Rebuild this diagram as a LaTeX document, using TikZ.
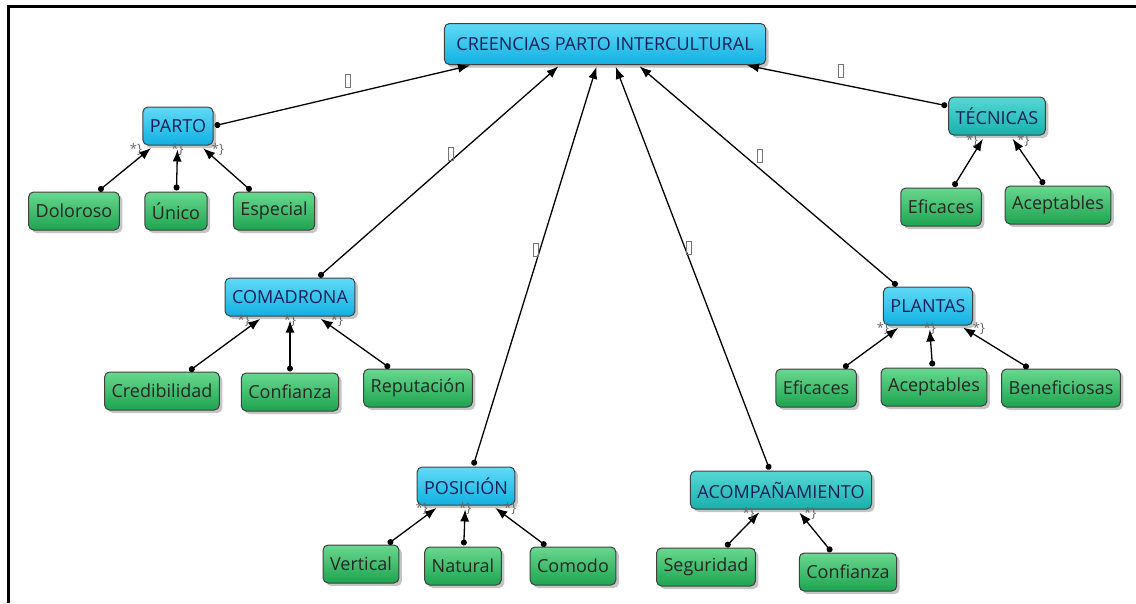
\documentclass[tikz,border=0pt]{standalone}
\usepackage{fontspec}
\setmainfont{Open Sans}
\usetikzlibrary{shapes,arrows.meta,shadows}
\definecolor{azul1}{RGB}{95,218,246}
\definecolor{azul2}{RGB}{18,176,226}
\definecolor{turq1}{RGB}{85,216,212}
\definecolor{turq2}{RGB}{24,176,172}
\definecolor{verde1}{RGB}{104,216,142}
\definecolor{verde2}{RGB}{30,164,80}
\definecolor{tinta}{RGB}{22,32,88}
\tikzstyle{caja}=[rectangle, rounded corners=5pt, draw=black!75, line width=1pt, inner xsep=7pt, minimum height=38pt, font=\fontsize{18}{20}\selectfont, drop shadow={shadow xshift=3pt, shadow yshift=-3pt, fill=black!45, opacity=.5}]
\tikzstyle{azul}=[caja, top color=azul1, bottom color=azul2, text=tinta]
\tikzstyle{turq}=[caja, top color=turq1, bottom color=turq2, text=tinta]
\tikzstyle{hoja}=[caja, top color=verde1, bottom color=verde2, text=black!85]
\tikzstyle{enlace}=[draw, line width=1.3pt, {Circle[length=6pt]}-{Latex[length=12pt,width=9pt]}, shorten <=1pt]
\tikzstyle{hueco}=[draw=black!55, line width=.8pt, minimum width=5pt, minimum height=13pt, inner sep=0pt]
\tikzstyle{marca}=[font=\fontsize{13}{13}\selectfont, text=black!60, inner sep=1pt]

\begin{document}
\begin{tikzpicture}[x=1pt, y=-1pt]
  %\draw [help lines, step=50] (0,0) grid (1136,603);
  \useasboundingbox (0,0) rectangle (1136,603);
  \draw[line width=3pt] (8,603) -- (8,6) -- (1136,6);

  \node[azul, inner xsep=12pt, minimum height=41pt] (crea) at (605,44) {CREENCIAS PARTO INTERCULTURAL};

  \node[azul] (parto) at (178,126) {PARTO};
  \node[hoja] (dol) at (74,211) {Doloroso};
  \node[hoja] (uni) at (176,211) {Único};
  \node[hoja] (esp) at (274,211) {Especial};

  \node[turq] (tec) at (997,116) {TÉCNICAS};
  \node[hoja] (efit) at (941,207) {Eficaces};
  \node[hoja] (acept) at (1058,205) {Aceptables};

  \node[azul] (coma) at (290,297) {COMADRONA};
  \node[hoja] (cred) at (162,391) {Credibilidad};
  \node[hoja] (confc) at (290,392) {Confianza};
  \node[hoja] (rep) at (418,388) {Reputación};

  \node[azul] (plan) at (928,306) {PLANTAS};
  \node[hoja] (efip) at (816,388) {Eficaces};
  \node[hoja] (acepp) at (934,387) {Aceptables};
  \node[hoja] (bene) at (1061,388) {Beneficiosas};

  \node[azul] (pos) at (466,486) {POSICIÓN};
  \node[hoja] (vert) at (361,564) {Vertical};
  \node[hoja] (nat) at (463,566) {Natural};
  \node[hoja] (como) at (573,566) {Comodo};

  \node[turq] (aco) at (781,490) {ACOMPAÑAMIENTO};
  \node[hoja] (seg) at (706,567) {Seguridad};
  \node[hoja] (confa) at (848,572) {Confianza};

  % enlaces principales
  \draw[enlace, shorten >=2pt] (parto.east) -- ([xshift=-133pt]crea.south) node[hueco, pos=.52, above=6pt] {};
  \draw[enlace, shorten >=2pt] ([xshift=28pt]coma.north) -- ([xshift=-45pt]crea.south) node[hueco, pos=.58, left=5pt] {};
  \draw[enlace, shorten >=2pt] ([xshift=7pt]pos.north) -- ([xshift=-8pt]crea.south) node[hueco, pos=.54, xshift=-4pt] {};
  \draw[enlace, shorten >=2pt] ([xshift=-11pt]aco.north) -- ([xshift=10pt]crea.south) node[hueco, pos=.55, right=1pt] {};
  \draw[enlace, shorten >=2pt] ([xshift=-30pt]plan.north) -- ([xshift=33pt]crea.south) node[hueco, pos=.59, right=12pt] {};
  \draw[enlace, shorten >=2pt] ([yshift=10pt]tec.west) -- ([xshift=140pt]crea.south) node[hueco, pos=.53, above=6pt] {};

  % hojas
  \draw[enlace, shorten >=4pt] (dol) -- (parto) node[marca, pos=.92, left=6pt] {*\}};
  \draw[enlace, shorten >=4pt] (uni) -- (parto) node[marca, pos=.92] {*\}};
  \draw[enlace, shorten >=4pt] (esp) -- (parto) node[marca, pos=.92, right=6pt] {*\}};

  \draw[enlace, shorten >=4pt] (efit) -- (tec) node[marca, pos=.9, left=2pt] {*\}};
  \draw[enlace, shorten >=4pt] (acept) -- (tec) node[marca, pos=.9, right=2pt] {*\}};

  \draw[enlace, shorten >=4pt] (cred) -- (coma) node[marca, pos=.92, left=6pt] {*\}};
  \draw[enlace, shorten >=4pt] (confc) -- (coma) node[marca, pos=.92] {*\}};
  \draw[enlace, shorten >=4pt] (rep) -- (coma) node[marca, pos=.92, right=6pt] {*\}};

  \draw[enlace, shorten >=4pt] (efip) -- (plan) node[marca, pos=.92, left=6pt] {*\}};
  \draw[enlace, shorten >=4pt] (acepp) -- (plan) node[marca, pos=.92] {*\}};
  \draw[enlace, shorten >=4pt] (bene) -- (plan) node[marca, pos=.92, right=6pt] {*\}};

  \draw[enlace, shorten >=4pt] (vert) -- (pos) node[marca, pos=.92, left=6pt] {*\}};
  \draw[enlace, shorten >=4pt] (nat) -- (pos) node[marca, pos=.92] {*\}};
  \draw[enlace, shorten >=4pt] (como) -- (pos) node[marca, pos=.92, right=6pt] {*\}};

  \draw[enlace, shorten >=4pt] (seg) -- (aco) node[marca, pos=.9, left=2pt] {*\}};
  \draw[enlace, shorten >=4pt] (confa) -- (aco) node[marca, pos=.9, right=2pt] {*\}};

\end{tikzpicture}
\end{document}
